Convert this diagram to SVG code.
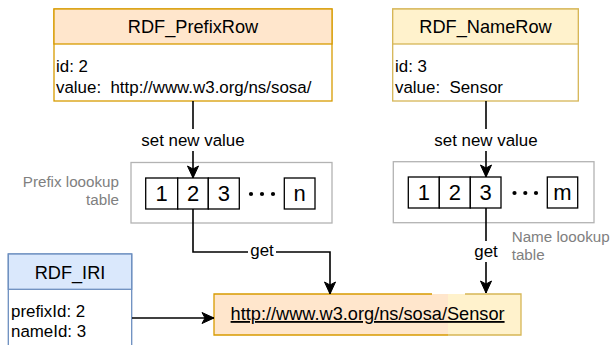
<svg xmlns="http://www.w3.org/2000/svg" width="610" height="345" viewBox="0 0 610 345">
<style>
text{font-family:"Liberation Sans",Arial,sans-serif;fill:#000}
.hd{font-size:18.2px;text-anchor:middle}
.bd{font-size:16.9px}
.lb{font-size:16.9px;text-anchor:middle}
.gr{font-size:15.2px;fill:#808080}
.dg{font-size:22px;text-anchor:middle}
.cell{fill:#fff;stroke:#000;stroke-width:1.3}
.tbl{fill:#fff;stroke:#b3b3b3;stroke-width:1.3}
.con{fill:none;stroke:#000;stroke-width:1.6}
</style>
<defs>
<marker id="ah" markerUnits="userSpaceOnUse" markerWidth="16" markerHeight="14" viewBox="-13 -7 16 14" refX="0" refY="0" orient="auto">
<path d="M0,0 L-12,-5.5 L-9,0 L-12,5.5 Z" fill="#000" stroke="#000" stroke-width="1"/>
</marker>
</defs>
<rect width="610" height="345" fill="#fff"/>

<g id="prefixrow">
<rect x="54" y="9" width="278" height="92" fill="#fff" stroke="#d79b00" stroke-width="1.3"/>
<rect x="54" y="9" width="278" height="35" fill="#ffe6cc" stroke="#d79b00" stroke-width="1.3"/>
<text class="hd" x="193" y="33">RDF_PrefixRow</text>
<text class="bd" x="56" y="72">id: 2</text>
<text class="bd" x="56" y="93" xml:space="preserve">value:  http://www.w3.org/ns/sosa/</text>
</g>

<g id="namerow">
<rect x="392.7" y="9" width="185.6" height="92" fill="#fff" stroke="#d6b656" stroke-width="1.3"/>
<rect x="392.7" y="9" width="185.6" height="35" fill="#fff2cc" stroke="#d6b656" stroke-width="1.3"/>
<text class="hd" x="485.5" y="33">RDF_NameRow</text>
<text class="bd" x="395" y="72">id: 3</text>
<text class="bd" x="395" y="93" xml:space="preserve">value:  Sensor</text>
</g>

<g id="prefixtable">
<rect class="tbl" x="131" y="162.5" width="201" height="60.5"/>
<rect class="cell" x="145.7" y="178" width="32" height="31"/>
<rect class="cell" x="177.7" y="178" width="30.6" height="31"/>
<rect class="cell" x="208.3" y="178" width="31" height="31"/>
<rect class="cell" x="284.3" y="178" width="30.7" height="31"/>
<text class="dg" x="161.7" y="201">1</text>
<text class="dg" x="193" y="201">2</text>
<text class="dg" x="223.8" y="201">3</text>
<text class="dg" x="299.7" y="201">n</text>
<circle cx="251" cy="194" r="2.1"/><circle cx="262" cy="194" r="2.1"/><circle cx="273" cy="194" r="2.1"/>
</g>
<g id="prefixlabel">
<text class="gr" x="119" y="186.5" text-anchor="end">Prefix loookup</text>
<text class="gr" x="119" y="205" text-anchor="end">table</text>
</g>

<g id="nametable">
<rect class="tbl" x="393.3" y="161.7" width="200.7" height="61"/>
<rect class="cell" x="408.3" y="177" width="31" height="31"/>
<rect class="cell" x="439.3" y="177" width="31" height="31"/>
<rect class="cell" x="470.3" y="177" width="30.7" height="31"/>
<rect class="cell" x="547.3" y="177" width="30.4" height="31"/>
<text class="dg" x="423.8" y="200">1</text>
<text class="dg" x="454.8" y="200">2</text>
<text class="dg" x="485.7" y="200">3</text>
<text class="dg" x="562.5" y="200">m</text>
<circle cx="514.5" cy="193" r="2.1"/><circle cx="525.3" cy="193" r="2.1"/><circle cx="536" cy="193" r="2.1"/>
</g>
<g id="namelabel">
<text class="gr" x="511.7" y="242">Name loookup</text>
<text class="gr" x="511.7" y="260">table</text>
</g>

<g id="iri">
<rect x="8.3" y="254" width="123.4" height="100" fill="#fff" stroke="#6c8ebf" stroke-width="1.3"/>
<rect x="8.3" y="254" width="123.4" height="35.3" fill="#dae8fc" stroke="#6c8ebf" stroke-width="1.3"/>
<text class="hd" x="70" y="278.5">RDF_IRI</text>
<text class="bd" x="11" y="316.7">prefixId: 2</text>
<text class="bd" x="11" y="337.3">nameId: 3</text>
</g>

<g id="result">
<rect x="214" y="294" width="307" height="41" fill="#fff2cc"/>
<rect x="214" y="294" width="234" height="41" fill="#ffe6cc"/>
<path d="M432,294 H214 V335 H448" fill="none" stroke="#d79b00" stroke-width="1.3"/>
<path d="M465,294 H521 V335 H448" fill="none" stroke="#d6b656" stroke-width="1.3"/>
<text x="367.6" y="320" font-size="18.2" text-anchor="middle" text-decoration="underline">http://www.w3.org/ns/sosa/Sensor</text>
</g>

<g id="connectors">
<path class="con" d="M193,101 V178" marker-end="url(#ah)"/>
<rect x="140" y="129" width="106" height="22" fill="#fff"/>
<text class="lb" x="193" y="145.5">set new value</text>
<path class="con" d="M486,101 V177" marker-end="url(#ah)"/>
<rect x="433" y="129" width="106" height="22" fill="#fff"/>
<text class="lb" x="486" y="145.5">set new value</text>
<path class="con" d="M193,209 V252 H330 V294" marker-end="url(#ah)"/>
<rect x="248" y="243" width="28" height="19" fill="#fff"/>
<text class="lb" x="262" y="256">get</text>
<path class="con" d="M486,208 V293" marker-end="url(#ah)"/>
<rect x="472" y="241" width="28" height="21" fill="#fff"/>
<text class="lb" x="486" y="256.5">get</text>
<path class="con" d="M132,318 H214" marker-end="url(#ah)"/>
</g>
</svg>
